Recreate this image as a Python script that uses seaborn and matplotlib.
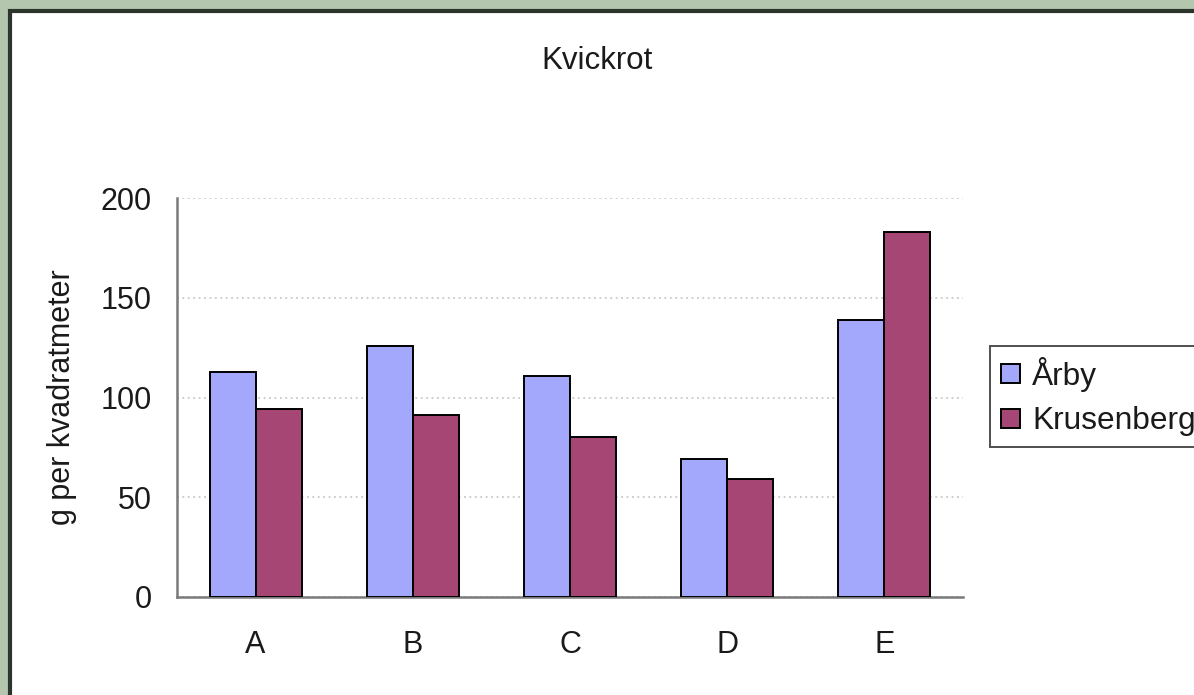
import pandas as pd
import matplotlib
matplotlib.use('Agg')
import matplotlib.pyplot as plt
from matplotlib.patches import Patch, Rectangle
from matplotlib.ticker import FixedLocator
import seaborn as sns

# Data
categories = ['A', 'B', 'C', 'D', 'E']
arby = [113, 126, 111, 69, 139]
krusenberg = [94, 91, 80, 59, 183]
series_names = ['Årby', 'Krusenberg']
colors = ['#a4a8fd', '#a64674']

data = pd.DataFrame({
    'Plats': [series_names[0]] * len(categories) + [series_names[1]] * len(categories),
    'Kategori': categories * 2,
    'Värde': arby + krusenberg,
})

sns.set_style('white')
plt.rcParams['font.family'] = ['Liberation Sans', 'DejaVu Sans']

W, H = 1194, 695
fig = plt.figure(figsize=(W / 100, H / 100), dpi=100, facecolor='#b4c7ae')

# white chart area with dark frame (cropped at right and bottom)
fig.add_artist(Rectangle((10 / W, -0.1), 1.2, 1.1 - 10.5 / H, transform=fig.transFigure,
                         facecolor='white', edgecolor='#2c352c', linewidth=3, zorder=-5))

ax = fig.add_axes([177 / W, 1 - 597 / H, (963 - 177) / W, (597 - 198) / H])
ax.set_facecolor('none')

sns.barplot(data=data, x='Kategori', y='Värde', hue='Plats', palette=colors,
            width=0.585, edgecolor='black', linewidth=1.4, saturation=1,
            legend=False, ax=ax, zorder=3)

ax.set_xlim(-0.5, len(categories) - 0.5)
ax.set_ylim(0, 200)
ax.set_yticks([0, 50, 100, 150, 200])
ax.yaxis.grid(True, linestyle=(0, (1, 2)), color='#c8c8c8', linewidth=1.3, zorder=0)
ax.set_axisbelow(True)

for side in ['top', 'right']:
    ax.spines[side].set_visible(False)
for side in ['left', 'bottom']:
    ax.spines[side].set_color('#7a7a7a')
    ax.spines[side].set_linewidth(1.8)

ax.tick_params(axis='y', direction='in', length=5, width=1.8, color='#7a7a7a',
               pad=18, labelsize=22, labelcolor='#1a1a1a')
ax.tick_params(axis='x', which='major', length=0, pad=24, labelsize=22, labelcolor='#1a1a1a')
ax.xaxis.set_minor_locator(FixedLocator([i - 0.5 for i in range(len(categories) + 1)]))
ax.tick_params(axis='x', which='minor', direction='in', length=4, width=1.8, color='#7a7a7a')

ax.set_xlabel('')
ax.set_ylabel('g per kvadratmeter', fontsize=22, color='#1a1a1a', va='center')
ax.yaxis.set_label_coords(-0.146, 0.5)

fig.text(0.5, 1 - 61 / H, 'Kvickrot', ha='center', va='center', fontsize=22.5, color='#1a1a1a')

handles = [Patch(facecolor=c, edgecolor='black', linewidth=1.4) for c in colors]
leg = ax.legend(handles, series_names, loc='upper left',
                bbox_to_anchor=(990 / W, 1 - 346 / H), bbox_transform=fig.transFigure,
                borderaxespad=0, fontsize=22.8, frameon=True, fancybox=False,
                handlelength=0.6, handleheight=0.55, handletextpad=0.38,
                borderpad=0.35, labelspacing=0.45)
leg.get_frame().set_edgecolor('#222222')
leg.get_frame().set_linewidth(1.4)
for t in leg.get_texts():
    t.set_color('#1a1a1a')

fig.savefig('out.png', dpi=100)
